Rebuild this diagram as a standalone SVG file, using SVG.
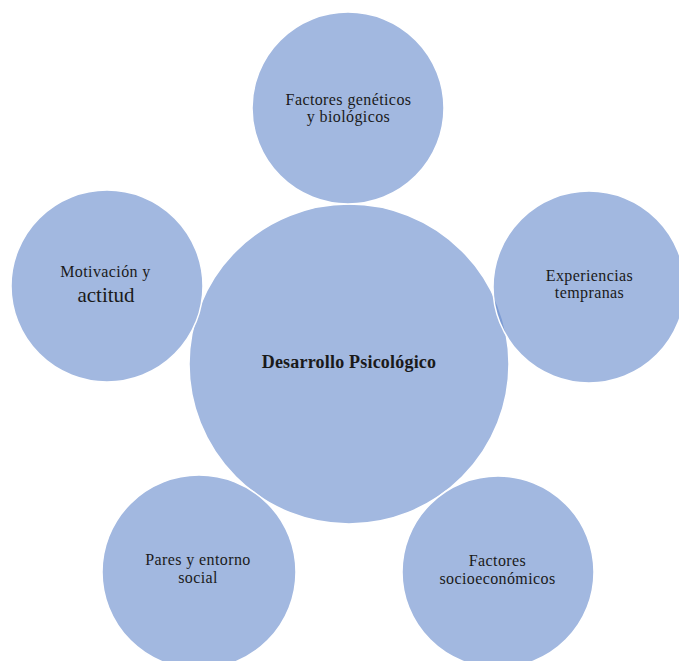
<svg xmlns="http://www.w3.org/2000/svg" width="679" height="661" viewBox="0 0 679 661">
<style>
.c{fill:rgb(100,137,203);fill-opacity:0.6;stroke:#fff;stroke-width:1.5}
text{font-family:'Liberation Serif','Times New Roman',serif;font-size:16px;letter-spacing:0.4px;fill:#1a1a1a;text-anchor:middle}
.b{font-weight:bold;font-size:18px;letter-spacing:0.2px}
</style>
<rect width="679" height="661" fill="#fff"/>
<g id="connectors"></g>
<g id="center">
<circle class="c" cx="349" cy="364" r="160"/>
<text class="b" x="349" y="368">Desarrollo Psicológico</text>
</g>
<g id="top">
<circle class="c" cx="348" cy="108" r="96"/>
<text x="348.5" y="105">Factores genéticos</text>
<text x="348.5" y="122">y biológicos</text>
</g>
<g id="right">
<circle class="c" cx="589" cy="287" r="96"/>
<text x="589.5" y="281">Experiencias</text>
<text x="589.5" y="298">tempranas</text>
</g>
<g id="left">
<circle class="c" cx="107" cy="286" r="96"/>
<text x="105.5" y="277">Motivación y</text>
<text x="106" y="302" style="font-size:21px;letter-spacing:0">actitud</text>
</g>
<g id="bottom-left">
<circle class="c" cx="199" cy="572" r="97"/>
<text x="198" y="565">Pares y entorno</text>
<text x="198" y="583">social</text>
</g>
<g id="bottom-right">
<circle class="c" cx="498" cy="572" r="96"/>
<text x="497.5" y="566">Factores</text>
<text x="497.5" y="584">socioeconómicos</text>
</g>
</svg>
